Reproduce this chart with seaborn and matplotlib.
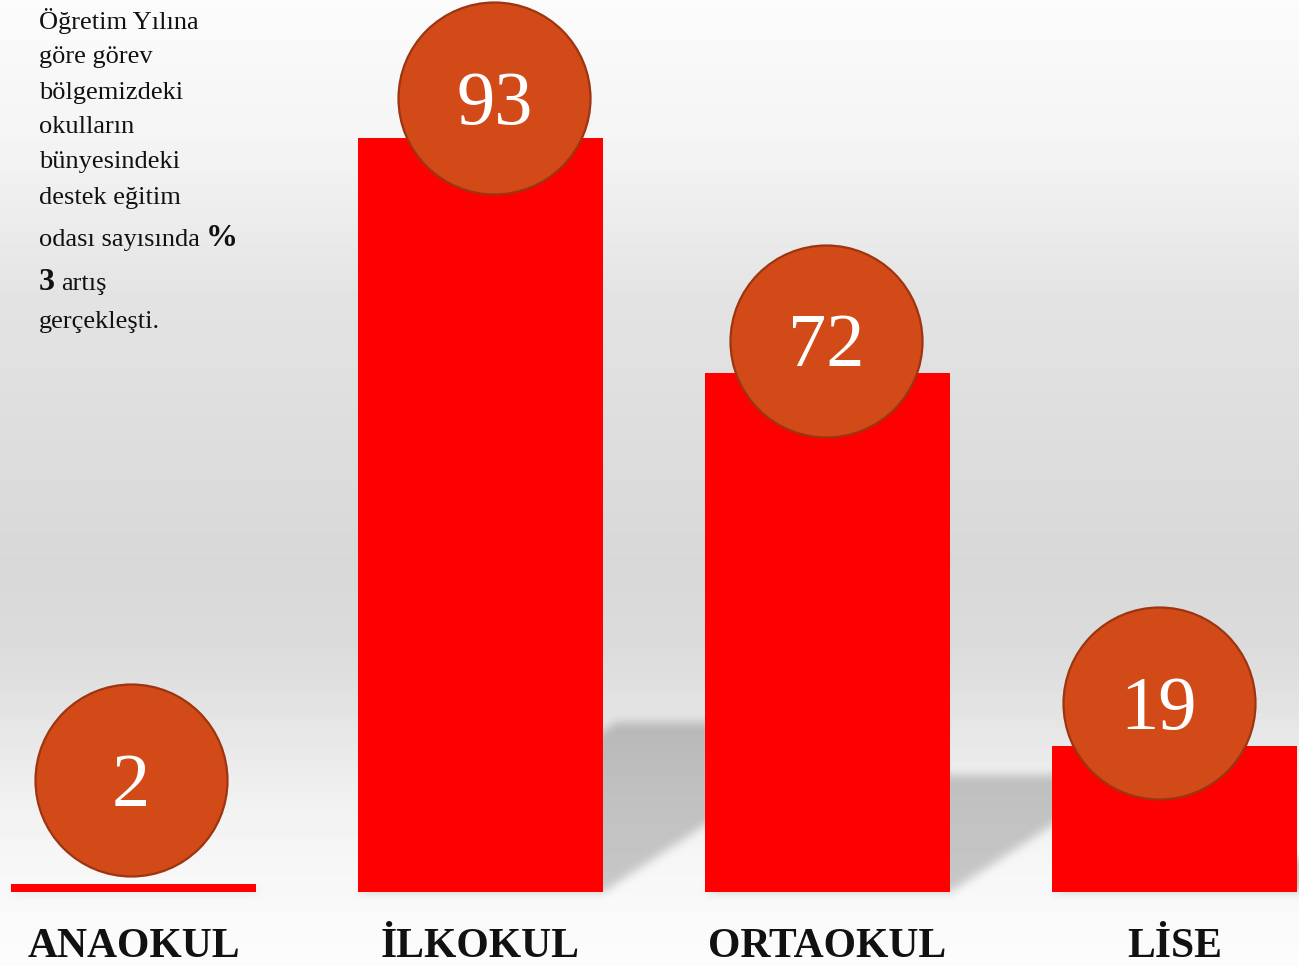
import numpy as np
import matplotlib
matplotlib.use("Agg")
import matplotlib.pyplot as plt
from matplotlib.path import Path
import seaborn as sns

# --- Datos ---
categories = ["ANAOKUL", "İLKOKUL", "ORTAOKUL", "LİSE"]
bar_heights = [1, 93, 64, 18]      # altura de las barras tal como se dibujan
badge_values = [2, 93, 72, 19]     # números dentro de los círculos

paragraph = [
    [("Öğretim Yılına", "r")],
    [("göre görev", "r")],
    [("bölgemizdeki", "r")],
    [("okulların", "r")],
    [("bünyesindeki", "r")],
    [("destek eğitim", "r")],
    [("odası sayısında", "r"), ("%", "b")],
    [("3", "b"), ("artış", "r")],
    [("gerçekleşti.", "r")],
]

# --- Maquetación ---
W, H = 1299, 966
SERIF = ["Liberation Serif", "DejaVu Serif"]
BAR_RED = "#ff0000"
BADGE_FACE = "#d24a18"
BADGE_EDGE = "#9c3510"
badge_dx = [-0.007, 0.04, -0.004, -0.045]
badge_dy = [12.8, 4.9, 4.0, 5.3]
text_baselines = [29, 63, 99, 133, 168, 204, 246, 290, 328]

sns.set_style("white")
plt.rcParams["font.family"] = SERIF

fig = plt.figure(figsize=(W / 100, H / 100), dpi=100)
bg_ax = fig.add_axes([0, 0, 1, 1], zorder=0)
bg_ax.axis("off")
ax = fig.add_axes([0, 74 / H, 1, 892 / H], zorder=1)
ax.patch.set_visible(False)

sns.barplot(x=categories, y=bar_heights, color=BAR_RED, saturation=1,
            width=0.708, linewidth=0, ax=ax)
ax.set_xlim(-133.5 / 347, (W - 133.5) / 347)
ax.set_ylim(0, 110)
for s in ax.spines.values():
    s.set_visible(False)
ax.set_yticks([])
ax.set_xlabel("")
ax.set_ylabel("")
ax.set_xticks(range(len(categories)))
ax.set_xticklabels(categories, fontsize=30, fontweight="bold", color="#111111")
ax.tick_params(axis="x", length=0, pad=26)

# círculos con los valores
xs = np.arange(len(categories)) + np.array(badge_dx)
ys = np.array(bar_heights) + np.array(badge_dy)
ax.scatter(xs, ys, s=(192 * 0.72) ** 2, color=BADGE_FACE, edgecolor=BADGE_EDGE,
           linewidth=1.6, zorder=3, clip_on=False)
for x, y, v in zip(xs, ys, badge_values):
    ax.annotate(str(v), (x, y), xytext=(0, -5), textcoords="offset points",
                ha="center", va="center", color="white", fontsize=55, zorder=4)

# --- Fondo degradado + sombras de las barras ---
fig.canvas.draw()
stops_y = [0, 150, 300, 560, 650, 733, 800, 880, 966]
stops_v = [0.985, 0.955, 0.89, 0.847, 0.86, 0.905, 0.945, 0.97, 0.988]
col = np.interp(np.arange(H) + 0.5, stops_y, stops_v)[::-1]   # origin lower

yy, xx = np.mgrid[0:H, 0:W]
pts = np.c_[xx.ravel() + 0.5, yy.ravel() + 0.5]
mask = np.zeros(H * W)
for p in ax.patches:
    bb = p.get_window_extent()
    h = bb.y1 - bb.y0
    sh = 0.225 * h
    d = 1.52 * sh
    poly = [(bb.x0, bb.y0), (bb.x1, bb.y0), (bb.x1 + d, bb.y0 + sh), (bb.x0 + d, bb.y0 + sh)]
    mask = np.maximum(mask, Path(poly).contains_points(pts))
mask = mask.reshape(H, W)


def box_blur(a, r):
    for axis in (0, 1):
        pad = [(0, 0), (0, 0)]
        pad[axis] = (r + 1, r)
        c = np.cumsum(np.pad(a, pad, mode="edge"), axis=axis)
        n = c.shape[axis]
        a = (np.take(c, range(2 * r + 1, n), axis=axis)
             - np.take(c, range(0, n - 2 * r - 1), axis=axis)) / (2 * r + 1)
    return a


shadow = box_blur(box_blur(mask, 5), 5)
img = col[:, None] * (1 - 0.2 * shadow)
bg_ax.imshow(img, cmap="gray", vmin=0, vmax=1, origin="lower",
             extent=[0, W, 0, H], aspect="auto", interpolation="nearest")
bg_ax.set_xlim(0, W)
bg_ax.set_ylim(0, H)

# --- Texto de la izquierda ---
renderer = fig.canvas.get_renderer()
for segs, base in zip(paragraph, text_baselines):
    x = 39
    for i, (txt, style) in enumerate(segs):
        if i > 0:
            x += 6
        if style == "b":
            t = fig.text(x / W, 1 - base / H, txt, fontsize=23, fontweight="bold",
                         color="#111111", va="baseline", ha="left")
        else:
            t = fig.text(x / W, 1 - base / H, txt, fontsize=19,
                         color="#111111", va="baseline", ha="left")
        x = t.get_window_extent(renderer).x1

fig.savefig("out.png", dpi=100)
